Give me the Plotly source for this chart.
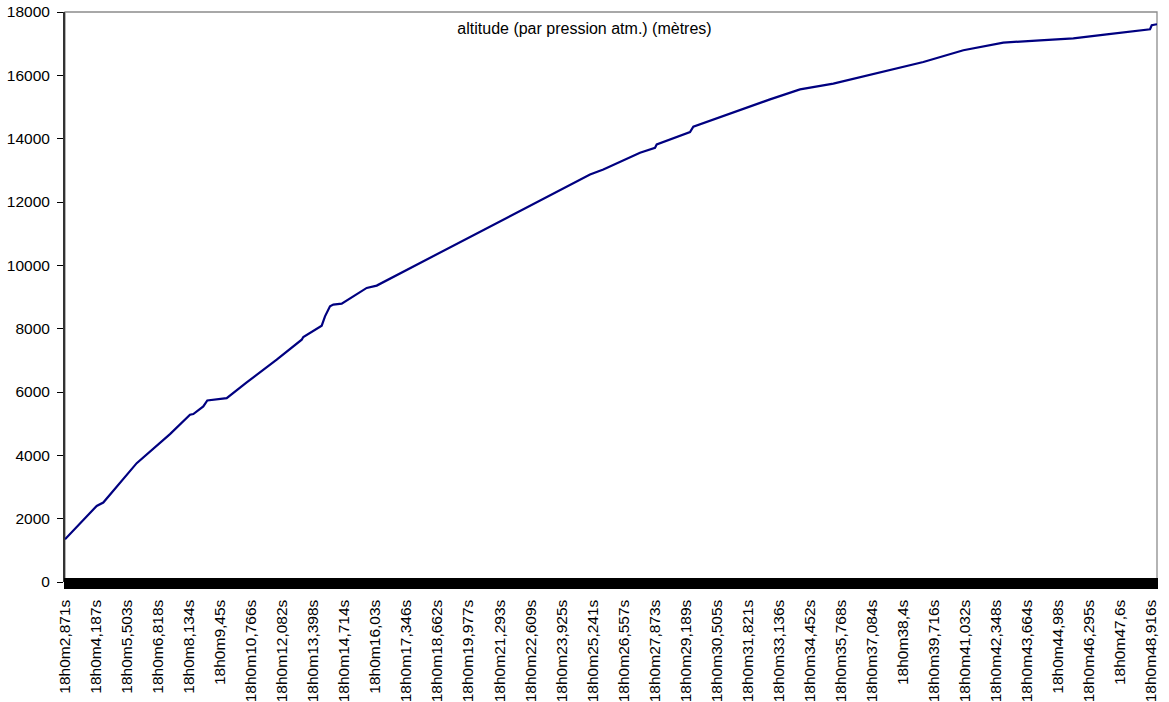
import plotly.graph_objects as go

# Étiquettes de l'axe du temps
libelles_temps = [
    "18h0m2,871s", "18h0m4,187s", "18h0m5,503s", "18h0m6,818s", "18h0m8,134s",
    "18h0m9,45s", "18h0m10,766s", "18h0m12,082s", "18h0m13,398s", "18h0m14,714s",
    "18h0m16,03s", "18h0m17,346s", "18h0m18,662s", "18h0m19,977s", "18h0m21,293s",
    "18h0m22,609s", "18h0m23,925s", "18h0m25,241s", "18h0m26,557s", "18h0m27,873s",
    "18h0m29,189s", "18h0m30,505s", "18h0m31,821s", "18h0m33,136s", "18h0m34,452s",
    "18h0m35,768s", "18h0m37,084s", "18h0m38,4s", "18h0m39,716s", "18h0m41,032s",
    "18h0m42,348s", "18h0m43,664s", "18h0m44,98s", "18h0m46,295s", "18h0m47,6s",
    "18h0m48,916s",
]
# Secondes écoulées après 18h0m0s, lues dans chaque étiquette
temps_libelles = [float(s.split("m")[1].rstrip("s").replace(",", ".")) for s in libelles_temps]

# Relevés : temps (s) et altitude barométrique (m)
temps_s = [
    2.871, 4.215, 4.495, 5.911, 7.323, 8.171, 8.311, 8.595, 8.735, 8.905,
    9.727, 10.575, 11.847, 12.907, 12.975, 13.755, 13.895, 14.107, 14.247, 14.603,
    15.663, 16.087, 25.131, 25.695, 27.111, 27.251, 27.887, 27.959, 29.371, 29.511,
    32.763, 34.035, 35.447, 39.263, 40.959, 42.655, 44.211, 45.623, 47.039, 48.875,
    48.947, 49.17,
]
altitude_m = [
    1350, 2403, 2508, 3753, 4670, 5280, 5303, 5461, 5543, 5733,
    5808, 6302, 7020, 7652, 7737, 8095, 8389, 8705, 8759, 8790,
    9287, 9360, 12870, 13028, 13502, 13555, 13713, 13818, 14208, 14377,
    15241, 15557, 15738, 16421, 16791, 17034, 17107, 17170, 17296, 17454,
    17581, 17613,
]

police = "Liberation Sans, Arial, Helvetica, sans-serif"
plage_x = [temps_s[0], temps_s[-1]]
# une graduation par relevé : ~30 graduations entre deux étiquettes
pas_graduation = (temps_libelles[-1] - temps_libelles[0]) / (len(temps_libelles) - 1) / 30

fig = go.Figure()
fig.add_trace(go.Scatter(
    x=temps_s, y=altitude_m, mode="lines",
    line=dict(color="#000080", width=2.2),
    name="altitude (par pression atm.) (mètres)",
    showlegend=False,
))

# cadre gris du haut et de droite
fig.add_shape(type="rect", xref="x domain", yref="y domain", x0=0, x1=1, y0=0, y1=1,
              line=dict(color="#8c8c8c", width=1.3), layer="below")

fig.update_layout(
    width=1169, height=702,
    margin=dict(l=65, r=12, t=12, b=120, autoexpand=False),
    paper_bgcolor="white", plot_bgcolor="white",
    font=dict(family=police, size=15.5, color="black"),
    title=dict(
        text="altitude (par pression atm.) (mètres)",
        font=dict(family=police, size=16, color="black"),
        x=0.5, xref="container", xanchor="center",
        y=1 - 28 / 702, yanchor="middle",
    ),
    xaxis=dict(
        range=plage_x, showgrid=False, zeroline=False, automargin=False,
        anchor="free", position=5.5 / 570,
        tickmode="array", tickvals=temps_libelles, ticktext=libelles_temps,
        tickangle=-90, ticks="outside", ticklen=11, tickcolor="black", tickwidth=2.5,
        showline=False,
        minor=dict(ticks="outside", ticklen=11, tickcolor="black", tickwidth=2.5,
                   tickmode="linear", tick0=temps_libelles[0], dtick=pas_graduation,
                   showgrid=False),
        ticklabelstandoff=5,
        tickfont=dict(family=police, size=15.5),
    ),
    yaxis=dict(
        range=[0, 18000], tickmode="linear", tick0=0, dtick=2000, tickformat="d",
        showgrid=False, zeroline=False, automargin=False,
        ticks="outside", ticklen=6, tickcolor="black", tickwidth=1.3,
        showline=True, linecolor="#333333", linewidth=2,
        tickfont=dict(family=police, size=15.5),
        ticklabelstandoff=4,
    ),
)

fig.write_html("out.html")
